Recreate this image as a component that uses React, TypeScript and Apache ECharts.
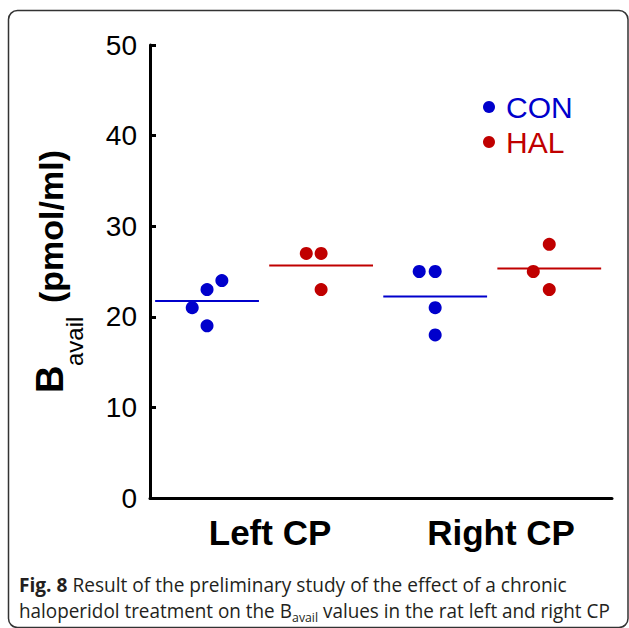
import React, { useEffect, useRef } from 'react';
import * as echarts from 'echarts';

// ---- data ----
const categories = ['Left CP', 'Right CP'];
const groupNames = ['CON', 'HAL'];
const yTickValues = [0, 10, 20, 30, 40, 50];

// slot centres on the x value axis: Left-CON, Left-HAL, Right-CON, Right-HAL
const slotCentres = [0.5, 1.5, 2.5, 3.5];

const conLeft = [21, 23, 24, 19];
const conLeftJitter = [-0.13, 0, 0.13, 0];
const halLeft = [27, 27, 23];
const halLeftJitter = [-0.13, 0, 0];
const conRight = [25, 25, 21, 18];
const conRightJitter = [-0.14, 0, 0, 0];
const halRight = [28, 25, 23];
const halRightJitter = [0, -0.14, 0];

const BLUE = '#0000CC';
const RED = '#C00000';
const SANS = '"Liberation Sans", Arial, sans-serif';
const CAPTION_FONT = '"Open Sans", sans-serif';

const pts = (vals: number[], jit: number[], centre: number) =>
  vals.map((v, i) => [centre + jit[i], v]);
const mean = (vals: number[]) => vals.reduce((a, b) => a + b, 0) / vals.length;
const HALF = 0.455;

export default function App() {
  const ref = useRef<HTMLDivElement>(null);
  useEffect(() => {
    if (!ref.current) return;
    const chart = echarts.init(ref.current, undefined, { renderer: 'svg' });

    const groups = [
      { vals: conLeft, jit: conLeftJitter, c: slotCentres[0], color: BLUE, name: groupNames[0] },
      { vals: halLeft, jit: halLeftJitter, c: slotCentres[1], color: RED, name: groupNames[1] },
      { vals: conRight, jit: conRightJitter, c: slotCentres[2], color: BLUE, name: groupNames[0] },
      { vals: halRight, jit: halRightJitter, c: slotCentres[3], color: RED, name: groupNames[1] },
    ];

    const meanSeries = groups.map((g) => {
      const m = mean(g.vals);
      return {
        type: 'line',
        xAxisIndex: 0,
        data: [[g.c - HALF, m], [g.c + HALF, m]],
        symbol: 'none',
        silent: true,
        lineStyle: { color: g.color, width: 2 },
        z: 1,
      };
    });

    chart.setOption({
      animation: false,
      backgroundColor: '#fff',
      grid: { left: 150, top: 45, right: 17, bottom: 130 },
      legend: {
        data: [
          { name: 'CON', textStyle: { color: BLUE } },
          { name: 'HAL', textStyle: { color: RED } },
        ],
        orient: 'vertical',
        left: 478,
        top: 87,
        icon: 'circle',
        itemWidth: 12,
        itemHeight: 12,
        itemGap: 5,
        textStyle: { fontSize: 30, fontFamily: SANS, padding: [0, 0, 0, 6] },
      },
      xAxis: [
        {
          type: 'value',
          min: 0,
          max: 4.05,
          axisLine: { show: true, onZero: false, lineStyle: { color: '#000', width: 3 } },
          axisTick: { show: false },
          axisLabel: { show: false },
          splitLine: { show: false },
        },
        {
          type: 'category',
          data: categories,
          position: 'bottom',
          boundaryGap: true,
          axisLine: { show: false },
          axisTick: { show: false },
          axisLabel: {
            fontSize: 35,
            fontWeight: 'bold',
            color: '#000',
            fontFamily: SANS,
            margin: 17,
            padding: [0, 0, 0, 9],
          },
        },
      ],
      yAxis: {
        type: 'value',
        min: yTickValues[0],
        max: yTickValues[yTickValues.length - 1],
        interval: 10,
        axisLine: { show: true, lineStyle: { color: '#000', width: 3 } },
        axisTick: { show: true, inside: true, length: 6, lineStyle: { color: '#000', width: 3 } },
        axisLabel: { fontSize: 28, color: '#000', fontFamily: SANS, margin: 13 },
        splitLine: { show: false },
      },
      series: [
        {
          name: 'CON',
          type: 'scatter',
          xAxisIndex: 0,
          symbolSize: 13,
          itemStyle: { color: BLUE, opacity: 1 },
          data: [...pts(conLeft, conLeftJitter, slotCentres[0]), ...pts(conRight, conRightJitter, slotCentres[2])],
          z: 3,
        },
        {
          name: 'HAL',
          type: 'scatter',
          xAxisIndex: 0,
          symbolSize: 13,
          itemStyle: { color: RED, opacity: 1 },
          data: [...pts(halLeft, halLeftJitter, slotCentres[1]), ...pts(halRight, halRightJitter, slotCentres[3])],
          z: 3,
        },
        ...meanSeries,
      ],
      graphic: [
        {
          type: 'rect',
          shape: { x: 8.5, y: 10.5, width: 619.5, height: 617, r: 9 },
          style: { fill: 'none', stroke: '#333', lineWidth: 1.5 },
          silent: true,
        },
        {
          type: 'group',
          x: 65,
          y: 393,
          rotation: Math.PI / 2,
          children: [
            {
              type: 'text',
              x: 0,
              y: -15,
              style: { text: 'B', font: `bold 38px ${SANS}`, fill: '#000', textAlign: 'left', textVerticalAlign: 'middle' },
            },
            {
              type: 'text',
              x: 27,
              y: 9,
              style: { text: 'avail', font: `24px ${SANS}`, fill: '#000', textAlign: 'left', textVerticalAlign: 'middle' },
            },
            {
              type: 'text',
              x: 90,
              y: -14,
              style: { text: '(pmol/ml)', font: `bold 34px ${SANS}`, fill: '#000', textAlign: 'left', textVerticalAlign: 'middle' },
            },
          ],
        },
        {
          type: 'text',
          x: 19,
          y: 584,
          scaleX: 0.955,
          style: {
            text: '{b|Fig. 8} Result of the preliminary study of the effect of a chronic',
            font: `20px ${CAPTION_FONT}`,
            fill: '#231f20',
            textVerticalAlign: 'middle',
            rich: { b: { fontWeight: 'bold', fontSize: 20, fontFamily: CAPTION_FONT, fill: '#231f20' } },
          },
        },
        {
          type: 'text',
          x: 19,
          y: 610,
          scaleX: 0.945,
          style: {
            text: 'haloperidol treatment on the B{s|avail} values in the rat left and right CP',
            font: `20px ${CAPTION_FONT}`,
            fill: '#231f20',
            lineHeight: 26,
            textVerticalAlign: 'middle',
            rich: { s: { fontSize: 13, fontFamily: CAPTION_FONT, fill: '#231f20', verticalAlign: 'bottom', lineHeight: 14 } },
          },
        },
      ],
    });
    return () => chart.dispose();
  }, []);
  return <div ref={ref} style={{ position: 'fixed', left: 0, top: 0, width: 629, height: 628 }} />;
}
